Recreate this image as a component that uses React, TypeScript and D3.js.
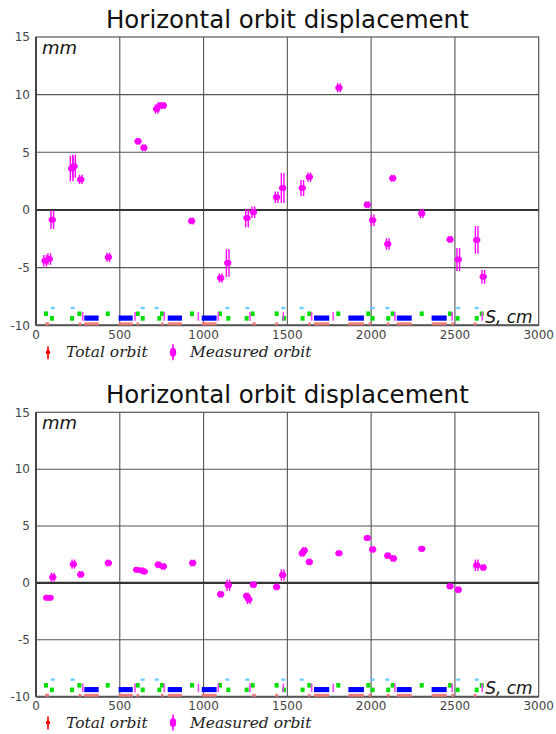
import * as d3 from "d3";

const TITLE = "Horizontal orbit displacement";
const X_TICKS = [0, 500, 1000, 1500, 2000, 2500, 3000];
const Y_TICKS = [-10, -5, 0, 5, 10, 15];

// BPM readings, first run: [s (cm), x (mm), error (mm)]
const MEASURED_1: [number, number, number][] = [
  [54, -4.4, 0.5], [79, -4.25, 0.5], [97, -0.85, 0.8], [213, 3.6, 1.1],
  [227, 3.8, 1.0], [267, 2.65, 0.4], [432, -4.1, 0.4], [609, 5.95, 0.3],
  [644, 5.4, 0.3], [720, 8.75, 0.4], [740, 9.05, 0.3], [760, 9.05, 0.3],
  [929, -0.95, 0.3], [1102, -5.9, 0.4], [1144, -4.6, 1.2], [1259, -0.7, 0.8],
  [1297, -0.2, 0.5], [1436, 1.1, 0.5], [1472, 1.9, 1.3], [1589, 1.9, 0.7],
  [1631, 2.85, 0.4], [1808, 10.6, 0.4], [1977, 0.45, 0.3], [2009, -0.9, 0.5],
  [2099, -2.95, 0.5], [2129, 2.75, 0.3], [2302, -0.3, 0.4], [2471, -2.55, 0.3],
  [2520, -4.3, 1.0], [2630, -2.6, 1.2], [2669, -5.8, 0.6],
];

// BPM readings, second run
const MEASURED_2: [number, number, number][] = [
  [64, -1.3, 0.25], [84, -1.3, 0.25], [100, 0.5, 0.4], [223, 1.65, 0.4],
  [267, 0.75, 0.3], [432, 1.75, 0.3], [601, 1.15, 0.25], [631, 1.1, 0.25],
  [646, 1.0, 0.25], [730, 1.6, 0.3], [760, 1.45, 0.3], [935, 1.75, 0.3],
  [1102, -1.0, 0.3], [1148, -0.2, 0.5], [1257, -1.15, 0.3], [1270, -1.45, 0.4],
  [1297, -0.15, 0.3], [1436, -0.35, 0.3], [1472, 0.7, 0.5], [1589, 2.6, 0.3],
  [1601, 2.85, 0.3], [1631, 1.85, 0.3], [1808, 2.6, 0.25], [1977, 3.95, 0.25],
  [2009, 2.95, 0.3], [2099, 2.4, 0.3], [2133, 2.15, 0.3], [2302, 3.0, 0.25],
  [2471, -0.3, 0.25], [2520, -0.6, 0.3], [2630, 1.55, 0.5], [2669, 1.35, 0.3],
];

// lattice elements along s (cm)
const BENDS: [number, number][] = [
  [288, 374], [493, 577], [786, 871], [989, 1078],
  [1659, 1750], [1864, 1957], [2153, 2242], [2361, 2451],
];
const QUADS_F = [60, 259, 428, 607, 752, 931, 1098, 1293, 1436, 1631, 1804, 1983, 2129, 2302, 2471, 2660];
const QUADS_D = [95, 215, 637, 736, 1148, 1257, 1480, 1591, 2009, 2102, 2516, 2630];
const CORRECTORS = [100, 219, 637, 720, 1142, 1261, 1476, 1585, 2009, 2097, 2520, 2630];
const MONITORS = [279, 591, 766, 969, 1088, 1277, 1476, 1645, 1774, 2142, 2484, 2663];
const SEXTS: [number, number][] = [
  [55, 78], [255, 270], [600, 614], [746, 760], [1291, 1311], [1428, 1444],
  [1623, 1639], [1985, 2001], [2094, 2110], [2479, 2495], [2612, 2628],
];

const PLOT_LEFT = 36;
const PLOT_RIGHT = 538.7;

interface PanelProps {
  data: [number, number, number][];
  titleY: number;
  plotTop: number;
  plotBottom: number;
  xLabelY: number;
  legendY: number;
}

function Panel({ data, titleY, plotTop, plotBottom, xLabelY, legendY }: PanelProps) {
  const x = d3.scaleLinear().domain([0, 3000]).range([PLOT_LEFT, PLOT_RIGHT]);
  const y = d3.scaleLinear().domain([-10, 15]).range([plotBottom, plotTop]);
  const w = (ds: number) => x(ds) - x(0);

  return (
    <g>
      <text
        x={(PLOT_LEFT + PLOT_RIGHT) / 2}
        y={titleY}
        textAnchor="middle"
        fontFamily="DejaVu Sans"
        fontSize={24.5}
        fill="#111"
      >
        {TITLE}
      </text>

      {/* grid */}
      {X_TICKS.slice(1, -1).map((t) => (
        <line key={"gx" + t} x1={x(t)} x2={x(t)} y1={plotTop} y2={plotBottom} stroke="#555" strokeWidth={1.1} />
      ))}
      {Y_TICKS.filter((t) => t !== 0 && t !== -10 && t !== 15).map((t) => (
        <line key={"gy" + t} x1={PLOT_LEFT} x2={PLOT_RIGHT} y1={y(t)} y2={y(t)} stroke="#555" strokeWidth={1.1} />
      ))}
      <rect
        x={PLOT_LEFT}
        y={plotTop}
        width={PLOT_RIGHT - PLOT_LEFT}
        height={plotBottom - plotTop}
        fill="none"
        stroke="#555"
        strokeWidth={1.2}
      />
      <line x1={PLOT_LEFT} x2={PLOT_RIGHT} y1={y(0)} y2={y(0)} stroke="#333" strokeWidth={2.2} />
      <line x1={PLOT_LEFT} x2={PLOT_LEFT} y1={plotTop} y2={plotBottom} stroke="#444" strokeWidth={2} />
      <line x1={PLOT_LEFT} x2={PLOT_RIGHT} y1={plotBottom} y2={plotBottom} stroke="#555" strokeWidth={2} />

      {/* tick labels */}
      {Y_TICKS.map((t) => (
        <text key={"ty" + t} x={30} y={y(t) + 4.3} textAnchor="end" fontFamily="DejaVu Sans" fontSize={12} fill="#444">
          {t}
        </text>
      ))}
      {X_TICKS.map((t) => (
        <text key={"tx" + t} x={x(t)} y={xLabelY} textAnchor="middle" fontFamily="DejaVu Sans" fontSize={12} fill="#444">
          {t}
        </text>
      ))}

      {/* lattice */}
      {SEXTS.map(([a, b], i) => (
        <rect key={"sx" + i} x={x(a)} y={y(-9.75)} width={w(b - a)} height={y(-10) - y(-9.75)} fill="#f07878" />
      ))}
      {BENDS.map(([a, b], i) => (
        <g key={"b" + i}>
          <rect x={x(a)} y={y(-9.75)} width={w(b - a)} height={y(-10) - y(-9.75)} fill="#f07878" />
          <rect x={x(a)} y={y(-9.15)} width={w(b - a)} height={y(-9.6) - y(-9.15)} fill="#0000ff" />
        </g>
      ))}
      {QUADS_F.map((s, i) => (
        <rect key={"qf" + i} x={x(s) - 2} y={y(-8.8)} width={4} height={y(-9.2) - y(-8.8)} fill="#00dd00" />
      ))}
      {QUADS_D.map((s, i) => (
        <rect key={"qd" + i} x={x(s) - 2} y={y(-9.2)} width={4} height={y(-9.6) - y(-9.2)} fill="#00dd00" />
      ))}
      {CORRECTORS.map((s, i) => (
        <rect key={"c" + i} x={x(s) - 2} y={y(-8.4)} width={4} height={y(-8.6) - y(-8.4)} fill="#66ccff" />
      ))}
      {MONITORS.map((s, i) => (
        <line key={"m" + i} x1={x(s)} x2={x(s)} y1={y(-8.85)} y2={y(-9.6)} stroke="#ff44ff" strokeWidth={1.6} />
      ))}

      {/* measured orbit */}
      {data.map(([s, v, e], i) => (
        <g key={"p" + i}>
          <line x1={x(s) - 1.3} x2={x(s) - 1.3} y1={y(v - e)} y2={y(v + e)} stroke="#ff00ff" strokeWidth={1.4} />
          <line x1={x(s) + 1.3} x2={x(s) + 1.3} y1={y(v - e)} y2={y(v + e)} stroke="#ff00ff" strokeWidth={1.4} />
          <ellipse cx={x(s)} cy={y(v)} rx={3.7} ry={3} fill="#ff00ff" />
        </g>
      ))}

      {/* axis units */}
      <text x={PLOT_LEFT + 6} y={plotTop + 17} fontFamily="DejaVu Sans" fontStyle="italic" fontSize={18} fill="#111">
        mm
      </text>
      <text x={PLOT_RIGHT - 6} y={plotBottom - 2.5} textAnchor="end" fontFamily="DejaVu Sans" fontStyle="italic" fontSize={17} fill="#111">
        S, cm
      </text>

      {/* legend */}
      <line x1={48} x2={48} y1={legendY - 11} y2={legendY + 2} stroke="#ff0000" strokeWidth={1.6} />
      <circle cx={48} cy={legendY - 5} r={2.2} fill="#ff0000" />
      <text x={66} y={legendY} fontFamily="DejaVu Serif" fontStyle="italic" fontSize={15.5} fill="#222">
        Total orbit
      </text>
      <line x1={173} x2={173} y1={legendY - 13} y2={legendY + 3} stroke="#ff00ff" strokeWidth={1.6} />
      <ellipse cx={173} cy={legendY - 5} rx={3.2} ry={4.5} fill="#ff00ff" />
      <text x={190} y={legendY} fontFamily="DejaVu Serif" fontStyle="italic" fontSize={15.5} fill="#222">
        Measured orbit
      </text>
    </g>
  );
}

export default function App() {
  return (
    <svg
      width={556}
      height={734}
      style={{ position: "absolute", left: 0, top: 0, background: "#fff" }}
    >
      <Panel data={MEASURED_1} titleY={28.3} plotTop={37} plotBottom={325.3} xLabelY={338.8} legendY={357.2} />
      <Panel data={MEASURED_2} titleY={403.3} plotTop={412.3} plotBottom={696.7} xLabelY={709.8} legendY={727.6} />
    </svg>
  );
}
